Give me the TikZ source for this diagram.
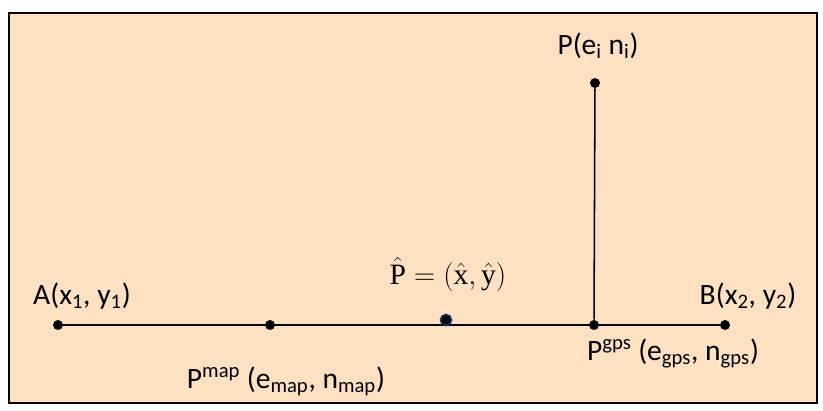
\documentclass[tikz,border=0pt]{standalone}
\usepackage{fontspec}
\setmainfont{Carlito}
\setmathrm{Liberation Serif}
\definecolor{peach}{RGB}{253,225,194}
\definecolor{navy}{RGB}{20,45,90}
\begin{document}
\begin{tikzpicture}[x=0.025cm, y=-0.025cm,
    every node/.style={font=\fontsize{21}{25}\selectfont},
    dot/.style={circle, fill=black, inner sep=0pt, minimum size=0.25cm},
    lbl/.style={anchor=base}]
    \useasboundingbox (0,0) rectangle (823,410);
    % frame
    \draw[line width=1.4pt, fill=peach] (9,13) rectangle (817,403);
    % points on the road
    \node[dot] (A) at (58,325) {};
    \node[dot] (Pmap) at (270,325) {};
    \node[dot] (Pgps) at (594,325) {};
    \node[dot] (B) at (725,325) {};
    \node[dot] (P) at (595,83) {};
    \draw[line width=2pt] (A) -- (Pmap) -- (Pgps) -- (B);
    \draw[line width=1.1pt] (P) -- (Pgps);
    \node[circle, fill=black, draw=navy, line width=1.3pt, inner sep=0pt,
      minimum size=0.27cm] (Phat) at (446,320) {};
    % labels
    \node[lbl] at (82,304) {A(x\textsubscript{1}, y\textsubscript{1})};
    \node[lbl] at (748,304) {B(x\textsubscript{2}, y\textsubscript{2})};
    \node[lbl] at (598,54) {P(e\textsubscript{i} n\textsubscript{i})};
    \node[lbl] at (448,284) {$\hat{\mathrm{P}} = \bigl(\hat{\mathrm{x}}, \hat{\mathrm{y}}\bigr)$};
    \node[lbl] at (673,360) {P\textsuperscript{gps} (e\textsubscript{gps}, n\textsubscript{gps})};
    \node[lbl] at (286,388) {P\textsuperscript{map} (e\textsubscript{map}, n\textsubscript{map})};
\end{tikzpicture}
\end{document}
